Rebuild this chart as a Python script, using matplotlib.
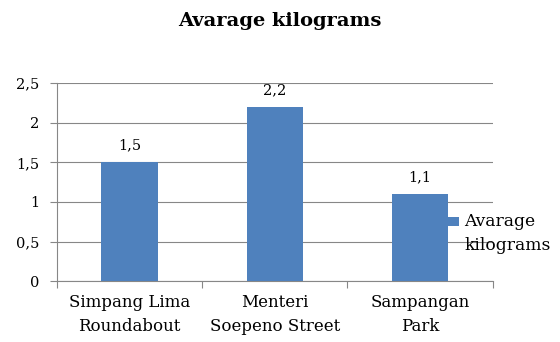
import matplotlib
matplotlib.use("Agg")
import matplotlib.pyplot as plt
from matplotlib.patches import Rectangle

categories = ["Simpang Lima\nRoundabout", "Menteri\nSoepeno Street", "Sampangan\nPark"]
values = [1.5, 2.2, 1.1]
value_labels = ["1,5", "2,2", "1,1"]
series_line1 = "Avarage"
series_line2 = "kilograms"
title = "Avarage kilograms"
yticks = [0, 0.5, 1, 1.5, 2, 2.5]
ytick_labels = ["0", "0,5", "1", "1,5", "2", "2,5"]

bar_color = "#4F81BD"
grid_color = "#878787"
font = "DejaVu Serif"

fig = plt.figure(figsize=(5.6, 3.42), dpi=100)
ax = fig.add_axes([0.1018, 0.178, 0.778, 0.579])

x = list(range(len(categories)))
ax.bar(x, values, width=0.39, color=bar_color, zorder=3)
ax.set_xlim(-0.5, len(categories) - 0.5)
ax.set_ylim(0, 2.5)

ax.set_yticks(yticks)
ax.set_yticklabels(ytick_labels, fontname=font, fontsize=10.5)
ax.yaxis.grid(True, color=grid_color, linewidth=0.8, zorder=0)

ax.set_xticks(x)
ax.set_xticklabels(categories, fontname=font, fontsize=12, linespacing=1.55)
ax.tick_params(axis="x", length=0, pad=9)
ax.set_xticks([i - 0.5 for i in range(len(categories) + 1)], minor=True)
ax.tick_params(axis="x", which="minor", length=5, color=grid_color, width=0.8)
ax.tick_params(axis="y", length=5, color=grid_color, width=0.8, pad=8)

for side in ["top", "right"]:
    ax.spines[side].set_visible(False)
for side in ["left", "bottom"]:
    ax.spines[side].set_color(grid_color)
    ax.spines[side].set_linewidth(0.8)

for xi, v, lab in zip(x, values, value_labels):
    ax.annotate(lab, (xi, v), xytext=(0, 7), textcoords="offset points",
                ha="center", va="bottom", fontname=font, fontsize=10.5)

fig.text(0.5, 0.94, title, ha="center", va="center", fontname=font,
         fontsize=14, fontweight="bold")

# legend: colour swatch beside a two-line series name
fig.patches.append(Rectangle((448 / 560, 1 - 226 / 342), 11 / 560, 9 / 342,
                             transform=fig.transFigure, facecolor=bar_color,
                             edgecolor="none"))
fig.text(464 / 560, 1 - 222 / 342, series_line1, ha="left", va="center",
         fontname=font, fontsize=12.3)
fig.text(464 / 560, 1 - 245 / 342, series_line2, ha="left", va="center",
         fontname=font, fontsize=12.3)

fig.savefig("out.png", dpi=100)
